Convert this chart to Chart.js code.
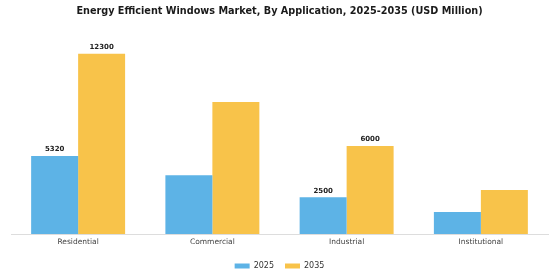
<!DOCTYPE html>
<html>
<head>
<meta charset="utf-8">
<script src="https://cdn.jsdelivr.net/npm/chart.js@4/dist/chart.umd.min.js"></script>
<style>
  html, body { margin: 0; padding: 0; background: #fff; }
  #wrap { width: 560px; height: 280px; }
</style>
</head>
<body>
<div id="wrap"><canvas id="appChart"></canvas></div>
<script>
const categories = ['Residential', 'Commercial', 'Industrial', 'Institutional'];
const years = ['2025', '2035'];
const values2025 = [5320, 4000, 2500, 1500];
const values2035 = [12300, 9000, 6000, 3000];
// only these categories carry value labels in the original
const labeledCategories = ['Residential', 'Industrial'];

const barLabels = {
    id: 'barLabels',
    afterDatasetsDraw(chart) {
        const ctx = chart.ctx;
        ctx.save();
        ctx.font = 'bold 7px "DejaVu Sans"';
        ctx.fillStyle = '#222';
        ctx.textAlign = 'center';
        ctx.textBaseline = 'bottom';
        chart.data.datasets.forEach((ds, i) => {
            chart.getDatasetMeta(i).data.forEach((bar, j) => {
                if (!labeledCategories.includes(categories[j])) return;
                ctx.fillText(ds.data[j], bar.x, bar.y - 3);
            });
        });
        ctx.restore();
    }
};

new Chart(document.getElementById('appChart'), {
    type: 'bar',
    data: {
        labels: categories,
        datasets: [
            { label: years[0], data: values2025, backgroundColor: '#5DB3E6' },
            { label: years[1], data: values2035, backgroundColor: '#F8C34A' }
        ]
    },
    options: {
        responsive: true,
        maintainAspectRatio: false,
        animation: false,
        layout: { padding: { left: 11, right: 12, top: 0, bottom: 0 } },
        datasets: { bar: { categoryPercentage: 0.7, barPercentage: 1.0 } },
        scales: {
            x: {
                grid: { display: false, drawTicks: false },
                border: { display: true, color: '#ddd' },
                ticks: { color: '#444', font: { family: 'DejaVu Sans', size: 7.5 }, padding: 4 }
            },
            y: {
                display: false,
                min: 0,
                max: 13800
            }
        },
        plugins: {
            title: {
                display: true,
                text: 'Energy Efficient Windows Market, By Application, 2025-2035 (USD Million)',
                color: '#1a1a1a',
                font: { family: 'DejaVu Sans', size: 9.7, weight: 'bold' },
                padding: { top: 6, bottom: 14 }
            },
            legend: {
                position: 'bottom',
                labels: {
                    boxWidth: 15,
                    boxHeight: 5,
                    color: '#333',
                    font: { family: 'DejaVu Sans', size: 8 },
                    padding: 11
                }
            },
            tooltip: { enabled: false }
        }
    },
    plugins: [barLabels]
});
</script>
</body>
</html>
